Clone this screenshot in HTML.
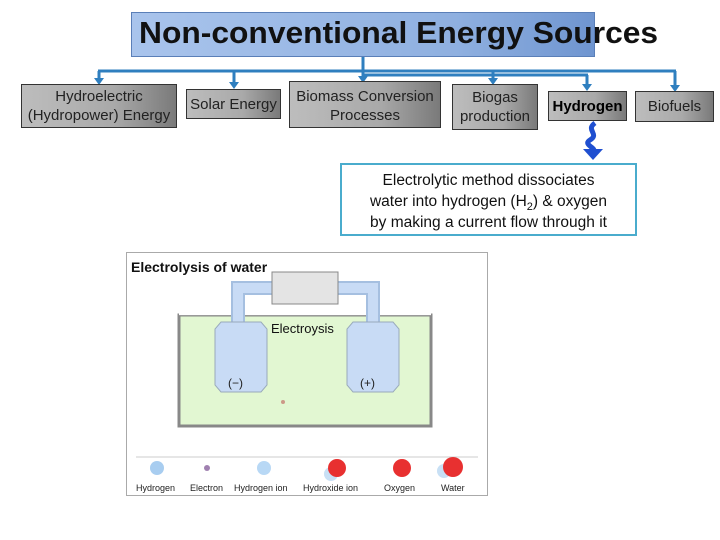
<!DOCTYPE html>
<html><head><style>
body{margin:0;width:720px;height:540px;background:#fff;position:relative;overflow:hidden;font-family:"Liberation Sans",sans-serif}
.a{position:absolute}
.box{position:absolute;border:1px solid #333;background:linear-gradient(90deg,#bdbdbd 0%,#a9a9a9 60%,#7a7a7a 100%);text-align:center;color:#222;font-size:15px;line-height:19px;box-sizing:border-box;display:flex;align-items:center;justify-content:center}
</style></head><body>
<div class="a" style="left:131px;top:12px;width:464px;height:45px;background:linear-gradient(90deg,#a9c4ec,#8fb0e0 70%,#6f95d0);border:1px solid #5a7fb8;box-sizing:border-box"></div>
<div class="a" style="left:139px;top:15px;font-size:31px;font-weight:bold;color:#111;white-space:nowrap;transform:scaleX(1.025);transform-origin:left">Non-conventional Energy Sources</div>
<svg class="a" style="left:0;top:0" width="720" height="160">
<g stroke="#2f7fbf" stroke-width="3" fill="none">
<line x1="363" y1="57" x2="363" y2="78"/>
<line x1="98" y1="71" x2="676" y2="71"/>
<line x1="363" y1="75" x2="588" y2="75"/>
<line x1="99" y1="71" x2="99" y2="80"/>
<line x1="234" y1="71" x2="234" y2="84"/>
<line x1="493" y1="71" x2="493" y2="80"/>
<line x1="587" y1="75" x2="587" y2="86"/>
<line x1="675" y1="71" x2="675" y2="87"/>
</g>
<g fill="#2f7fbf">
<polygon points="94,78 104,78 99,85"/>
<polygon points="229,82 239,82 234,89"/>
<polygon points="358,76 368,76 363,83"/>
<polygon points="488,78 498,78 493,85"/>
<polygon points="582,84 592,84 587,91"/>
<polygon points="670,85 680,85 675,92"/>
</g>
<path d="M595,123 C585,130 600,134 590,140 C582,145 598,148 593,152" stroke="#1f4fd0" stroke-width="5" fill="none"/>
<polygon points="583,149 603,149 593,160" fill="#1f4fd0"/>
</svg>
<div class="box" style="left:21px;top:84px;width:156px;height:44px">Hydroelectric<br>(Hydropower) Energy</div>
<div class="box" style="left:186px;top:89px;width:95px;height:30px">Solar Energy</div>
<div class="box" style="left:289px;top:81px;width:152px;height:47px;line-height:19px;align-items:flex-start;padding-top:5px">Biomass Conversion<br>Processes</div>
<div class="box" style="left:452px;top:84px;width:86px;height:46px">Biogas<br>production</div>
<div class="box" style="left:548px;top:91px;width:79px;height:30px;font-weight:bold;color:#000">Hydrogen</div>
<div class="box" style="left:635px;top:91px;width:79px;height:31px">Biofuels</div>
<div class="a" style="left:340px;top:163px;width:297px;height:73px;border:2px solid #4aaccd;box-sizing:border-box;text-align:center;font-size:15.5px;line-height:21px;padding-top:5px;color:#111">Electrolytic method dissociates<br>water into hydrogen (H<sub style="font-size:11px;line-height:0">2</sub>) &amp; oxygen<br>by making a current flow through it</div>
<svg class="a" style="left:126px;top:252px" width="362" height="244">
<rect x="0.5" y="0.5" width="361" height="243" fill="#fff" stroke="#aaa"/>
<rect x="53" y="63" width="252" height="111" fill="#e2f7d2" stroke="#888" stroke-width="3"/>
<rect x="53" y="61" width="252" height="3" fill="#fff"/>
<rect x="53" y="63" width="252" height="1" fill="#999"/>
<path d="M112,75 V36 H247 V75" stroke="#a5bfe0" stroke-width="14" fill="none"/>
<path d="M112,75 V36 H247 V75" stroke="#c8dbf5" stroke-width="10" fill="none"/>
<path d="M95,70 H135 L141,77 V133 L135,140 H95 L89,133 V77 Z" fill="#c8dbf5" stroke="#99aabb"/>
<path d="M227,70 H267 L273,77 V133 L267,140 H227 L221,133 V77 Z" fill="#c8dbf5" stroke="#99aabb"/>
<rect x="146" y="20" width="66" height="32" fill="#e4e4e4" stroke="#888"/>
<text x="5" y="20" font-family="Liberation Sans" font-weight="bold" font-size="14" fill="#111">Electrolysis of water</text>
<text x="145" y="81" font-family="Liberation Sans" font-size="13" fill="#111">Electroysis</text>
<text x="102" y="135" font-family="Liberation Sans" font-size="12" fill="#222">(−)</text>
<text x="234" y="135" font-family="Liberation Sans" font-size="12" fill="#222">(+)</text>
<circle cx="157" cy="150" r="2" fill="#c98"/>
<line x1="10" y1="205" x2="352" y2="205" stroke="#ccc"/>
<circle cx="31" cy="216" r="7" fill="#a8cdf0"/>
<circle cx="81" cy="216" r="3" fill="#a080b0"/>
<circle cx="138" cy="216" r="7" fill="#b8d8f5"/>
<circle cx="205" cy="222" r="7" fill="#c8e0f5"/>
<circle cx="211" cy="216" r="9" fill="#e83030"/>
<circle cx="276" cy="216" r="9" fill="#e83030"/>
<circle cx="318" cy="219" r="7" fill="#c8e0f5"/>
<circle cx="327" cy="215" r="10" fill="#e83030"/>
<g font-family="Liberation Sans" font-size="9" fill="#222">
<text x="10" y="239">Hydrogen</text><text x="64" y="239">Electron</text><text x="108" y="239">Hydrogen ion</text><text x="177" y="239">Hydroxide ion</text><text x="258" y="239">Oxygen</text><text x="315" y="239">Water</text>
</g>
</svg>
</body></html>
